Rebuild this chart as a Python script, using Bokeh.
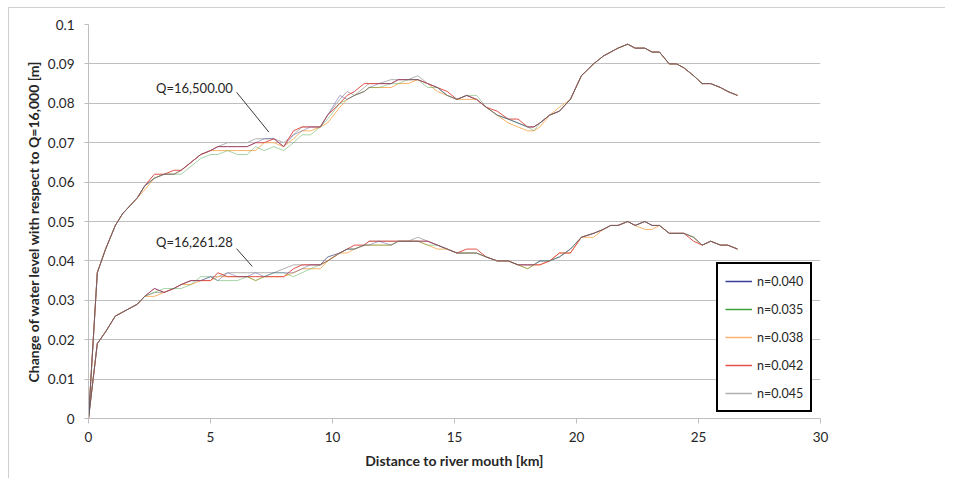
from bokeh.plotting import figure
from bokeh.models import (FixedTicker, CustomJSTickFormatter, Legend, LegendItem, Label)
from bokeh.embed import file_html
from bokeh.resources import INLINE

# ---------------- data ----------------
distance_km = [
    0.0, 0.36, 0.7, 1.1, 1.4, 1.7, 2.0, 2.3, 2.7, 3.1,
    3.5, 3.8, 4.2, 4.6, 5.0, 5.3, 5.7, 6.1, 6.5, 6.85,
    7.2, 7.6, 8.0, 8.4, 8.75, 9.1, 9.5, 9.8, 10.3, 10.6,
    10.9, 11.3, 11.5, 11.9, 12.4, 12.7, 13.1, 13.5, 13.9, 14.3,
    14.7, 15.1, 15.5, 15.9, 16.3, 16.75, 17.2, 17.6, 18.0, 18.25,
    18.5, 18.9, 19.3, 19.75, 20.2, 20.7, 21.1, 21.4, 21.7, 22.1,
    22.4, 22.8, 23.1, 23.4, 23.8, 24.1, 24.4, 24.8, 25.15, 25.5,
    25.9, 26.2, 26.6,
]

# Q = 16,500.00
q16500_n040 = [
    0.000, 0.037, 0.043, 0.049, 0.052, 0.054, 0.056, 0.059, 0.061, 0.062,
    0.062, 0.063, 0.065, 0.067, 0.068, 0.069, 0.069, 0.069, 0.069, 0.070,
    0.071, 0.071, 0.069, 0.072, 0.073, 0.074, 0.074, 0.077, 0.082, 0.081,
    0.082, 0.083, 0.084, 0.085, 0.085, 0.086, 0.086, 0.086, 0.085, 0.084,
    0.082, 0.081, 0.082, 0.081, 0.079, 0.077, 0.076, 0.075, 0.074, 0.074,
    0.075, 0.077, 0.078, 0.081, 0.087, 0.090, 0.092, 0.093, 0.094, 0.095,
    0.094, 0.094, 0.093, 0.093, 0.090, 0.090, 0.089, 0.087, 0.085, 0.085,
    0.084, 0.083, 0.082,
]
q16500_n035 = [
    0.000, 0.037, 0.043, 0.049, 0.052, 0.054, 0.056, 0.059, 0.061, 0.062,
    0.062, 0.062, 0.064, 0.066, 0.067, 0.067, 0.068, 0.067, 0.067, 0.069,
    0.068, 0.069, 0.068, 0.070, 0.072, 0.072, 0.074, 0.076, 0.080, 0.081,
    0.082, 0.083, 0.084, 0.084, 0.085, 0.085, 0.086, 0.086, 0.084, 0.084,
    0.082, 0.081, 0.082, 0.082, 0.079, 0.077, 0.076, 0.075, 0.074, 0.073,
    0.075, 0.077, 0.078, 0.081, 0.087, 0.090, 0.092, 0.093, 0.094, 0.095,
    0.094, 0.094, 0.093, 0.093, 0.090, 0.090, 0.089, 0.087, 0.085, 0.085,
    0.084, 0.083, 0.082,
]
q16500_n038 = [
    0.000, 0.037, 0.043, 0.049, 0.052, 0.054, 0.056, 0.058, 0.061, 0.062,
    0.062, 0.063, 0.065, 0.067, 0.068, 0.068, 0.068, 0.068, 0.068, 0.068,
    0.070, 0.070, 0.069, 0.071, 0.073, 0.073, 0.074, 0.075, 0.079, 0.081,
    0.082, 0.083, 0.084, 0.084, 0.084, 0.085, 0.085, 0.086, 0.085, 0.083,
    0.082, 0.081, 0.081, 0.081, 0.079, 0.077, 0.075, 0.074, 0.073, 0.073,
    0.074, 0.077, 0.079, 0.081, 0.087, 0.090, 0.092, 0.093, 0.094, 0.095,
    0.094, 0.094, 0.093, 0.093, 0.090, 0.090, 0.089, 0.087, 0.085, 0.085,
    0.084, 0.083, 0.082,
]
q16500_n042 = [
    0.000, 0.037, 0.043, 0.049, 0.052, 0.054, 0.056, 0.059, 0.062, 0.062,
    0.063, 0.063, 0.065, 0.067, 0.068, 0.069, 0.069, 0.069, 0.069, 0.070,
    0.070, 0.071, 0.069, 0.073, 0.074, 0.074, 0.074, 0.077, 0.080, 0.082,
    0.083, 0.085, 0.085, 0.085, 0.085, 0.086, 0.086, 0.086, 0.085, 0.084,
    0.083, 0.081, 0.082, 0.081, 0.079, 0.078, 0.076, 0.076, 0.074, 0.074,
    0.075, 0.077, 0.078, 0.081, 0.087, 0.090, 0.092, 0.093, 0.094, 0.095,
    0.094, 0.094, 0.093, 0.093, 0.090, 0.090, 0.089, 0.087, 0.085, 0.085,
    0.084, 0.083, 0.082,
]
q16500_n045 = [
    0.000, 0.037, 0.043, 0.049, 0.052, 0.054, 0.056, 0.059, 0.061, 0.062,
    0.062, 0.063, 0.065, 0.067, 0.068, 0.069, 0.070, 0.070, 0.070, 0.071,
    0.071, 0.071, 0.070, 0.072, 0.074, 0.074, 0.074, 0.077, 0.081, 0.083,
    0.082, 0.084, 0.085, 0.085, 0.086, 0.086, 0.086, 0.087, 0.085, 0.084,
    0.082, 0.081, 0.082, 0.081, 0.079, 0.077, 0.076, 0.075, 0.074, 0.074,
    0.075, 0.077, 0.078, 0.081, 0.087, 0.090, 0.092, 0.093, 0.094, 0.095,
    0.094, 0.094, 0.093, 0.093, 0.090, 0.090, 0.089, 0.087, 0.085, 0.085,
    0.084, 0.083, 0.082,
]

# Q = 16,261.28
q16261_n040 = [
    0.000, 0.019, 0.022, 0.026, 0.027, 0.028, 0.029, 0.031, 0.033, 0.032,
    0.033, 0.034, 0.035, 0.035, 0.036, 0.035, 0.037, 0.036, 0.036, 0.037,
    0.036, 0.037, 0.037, 0.037, 0.038, 0.039, 0.039, 0.041, 0.042, 0.043,
    0.043, 0.044, 0.044, 0.045, 0.044, 0.045, 0.045, 0.045, 0.045, 0.044,
    0.043, 0.042, 0.042, 0.042, 0.041, 0.040, 0.040, 0.039, 0.039, 0.039,
    0.040, 0.040, 0.041, 0.043, 0.046, 0.047, 0.048, 0.049, 0.049, 0.050,
    0.049, 0.050, 0.049, 0.049, 0.047, 0.047, 0.047, 0.046, 0.044, 0.045,
    0.044, 0.044, 0.043,
]
q16261_n035 = [
    0.000, 0.019, 0.022, 0.026, 0.027, 0.028, 0.029, 0.031, 0.032, 0.033,
    0.033, 0.033, 0.034, 0.036, 0.036, 0.035, 0.035, 0.035, 0.036, 0.035,
    0.036, 0.037, 0.037, 0.036, 0.037, 0.038, 0.039, 0.040, 0.042, 0.043,
    0.043, 0.044, 0.044, 0.044, 0.044, 0.045, 0.045, 0.045, 0.044, 0.044,
    0.043, 0.042, 0.042, 0.042, 0.041, 0.040, 0.040, 0.039, 0.038, 0.039,
    0.040, 0.040, 0.041, 0.043, 0.046, 0.047, 0.048, 0.049, 0.049, 0.050,
    0.049, 0.050, 0.049, 0.049, 0.047, 0.047, 0.047, 0.046, 0.044, 0.045,
    0.044, 0.044, 0.043,
]
q16261_n038 = [
    0.000, 0.019, 0.022, 0.026, 0.027, 0.028, 0.029, 0.031, 0.031, 0.032,
    0.033, 0.034, 0.034, 0.035, 0.035, 0.036, 0.036, 0.036, 0.036, 0.035,
    0.036, 0.036, 0.036, 0.037, 0.038, 0.038, 0.038, 0.040, 0.042, 0.042,
    0.043, 0.044, 0.044, 0.044, 0.044, 0.045, 0.045, 0.045, 0.044, 0.043,
    0.043, 0.042, 0.042, 0.042, 0.041, 0.040, 0.040, 0.039, 0.038, 0.039,
    0.039, 0.040, 0.042, 0.042, 0.046, 0.046, 0.048, 0.049, 0.049, 0.050,
    0.049, 0.048, 0.048, 0.049, 0.047, 0.047, 0.047, 0.046, 0.044, 0.045,
    0.044, 0.044, 0.043,
]
q16261_n042 = [
    0.000, 0.019, 0.022, 0.026, 0.027, 0.028, 0.029, 0.031, 0.033, 0.032,
    0.033, 0.034, 0.035, 0.035, 0.035, 0.037, 0.036, 0.036, 0.036, 0.036,
    0.036, 0.036, 0.036, 0.038, 0.039, 0.039, 0.039, 0.040, 0.042, 0.043,
    0.044, 0.044, 0.045, 0.045, 0.045, 0.045, 0.045, 0.045, 0.045, 0.044,
    0.043, 0.042, 0.043, 0.043, 0.041, 0.040, 0.040, 0.039, 0.039, 0.039,
    0.039, 0.040, 0.042, 0.042, 0.046, 0.047, 0.048, 0.049, 0.049, 0.050,
    0.049, 0.050, 0.049, 0.049, 0.047, 0.047, 0.047, 0.045, 0.044, 0.045,
    0.044, 0.044, 0.043,
]
q16261_n045 = [
    0.000, 0.019, 0.022, 0.026, 0.027, 0.028, 0.029, 0.031, 0.032, 0.032,
    0.033, 0.034, 0.035, 0.035, 0.036, 0.036, 0.037, 0.037, 0.037, 0.037,
    0.037, 0.037, 0.038, 0.039, 0.039, 0.039, 0.039, 0.041, 0.042, 0.043,
    0.043, 0.044, 0.045, 0.045, 0.045, 0.045, 0.045, 0.046, 0.045, 0.044,
    0.043, 0.042, 0.042, 0.042, 0.041, 0.040, 0.040, 0.039, 0.039, 0.039,
    0.040, 0.040, 0.041, 0.043, 0.046, 0.047, 0.048, 0.049, 0.049, 0.050,
    0.049, 0.050, 0.049, 0.049, 0.047, 0.047, 0.047, 0.046, 0.044, 0.045,
    0.044, 0.044, 0.043,
]

series_labels = ["n=0.040", "n=0.035", "n=0.038", "n=0.042", "n=0.045"]
series_colors = ["#3b3b9a", "#3f9f3f", "#f8b468", "#e3514a", "#b0b0b0"]
upper_series = [q16500_n040, q16500_n035, q16500_n038, q16500_n042, q16500_n045]
lower_series = [q16261_n040, q16261_n035, q16261_n038, q16261_n042, q16261_n045]

x_ticks = [0, 5, 10, 15, 20, 25, 30]
y_ticks = [0.0, 0.01, 0.02, 0.03, 0.04, 0.05, 0.06, 0.07, 0.08, 0.09, 0.1]

# annotation texts and their anchor / leader-line positions (data units)
annot_texts = ["Q=16,500.00", "Q=16,261.28"]
annot_x = [2.77, 2.77]
annot_y = [0.0840, 0.0447]
leader_x0 = [6.07, 6.07]
leader_y0 = [0.0828, 0.0431]
leader_x1 = [7.39, 6.71]
leader_y1 = [0.0727, 0.0386]

for s in upper_series + lower_series:
    assert len(s) == len(distance_km), len(s)

FONT = "Lato"
GRID = "#bfbfbf"
TXT = "#262626"

p = figure(width=937, height=471, x_range=(0, 30), y_range=(0, 0.1),
           output_backend="svg", toolbar_location=None,
           min_border_left=79, min_border_right=126,
           min_border_top=16, min_border_bottom=61)
p.styles = {"border-top": "1px solid #cfcfcf", "border-left": "1px solid #cfcfcf",
            "margin-left": "8px", "margin-top": "7px"}
p.outline_line_color = None
p.background_fill_color = "white"
p.border_fill_color = "white"

p.xgrid.visible = False
p.ygrid.grid_line_color = GRID
p.ygrid.grid_line_width = 1

p.xaxis.ticker = FixedTicker(ticks=x_ticks)
p.yaxis.ticker = FixedTicker(ticks=y_ticks)
p.yaxis.formatter = CustomJSTickFormatter(
    code="return tick.toFixed(2).replace(/\\.?0+$/, '');")

for ax in (p.xaxis[0], p.yaxis[0]):
    ax.axis_line_color = GRID
    ax.major_tick_line_color = GRID
    ax.minor_tick_line_color = None
    ax.major_tick_in = 0
    ax.major_label_text_font = FONT
    ax.major_label_text_font_size = "13.5px"
    ax.major_label_text_color = TXT
    ax.axis_label_text_font = FONT
    ax.axis_label_text_font_size = "14px"
    ax.axis_label_text_font_style = "bold"
    ax.axis_label_text_color = TXT

p.xaxis.major_tick_out = 5
p.xaxis.major_label_standoff = 8
p.xaxis.axis_label_standoff = 7
p.yaxis.major_tick_out = 4
p.yaxis.major_label_standoff = 10
p.yaxis.axis_label_standoff = 3
p.xaxis.axis_label = "Distance to river mouth [km]"
p.yaxis.axis_label = "Change of water level with respect to Q=16,000 [m]"

# lines (drawn so that the overlapping parts blend to a brownish tone)
series_alpha = [0.42, 0.45, 1.0, 1.0, 1.0]
draw_order = [4, 2, 3, 1, 0]
for i in draw_order:
    for group in (upper_series, lower_series):
        p.line(distance_km, group[i], line_color=series_colors[i],
               line_width=1, line_alpha=series_alpha[i])

# legend swatches: one-point lines (draw nothing in the plot, only in the legend)
legend_items = []
for lab, col, s in zip(series_labels, series_colors, upper_series):
    proxy = p.line(distance_km[:1], s[:1], line_color=col, line_width=1.5)
    legend_items.append(LegendItem(label=lab, renderers=[proxy]))

# annotations
p.segment(x0=leader_x0, y0=leader_y0, x1=leader_x1, y1=leader_y1,
          line_color="#3a3a3a", line_width=1)
for t, xx, yy in zip(annot_texts, annot_x, annot_y):
    p.add_layout(Label(x=xx, y=yy, text=t, text_font=FONT,
                       text_font_size="13px", text_color=TXT,
                       text_baseline="middle", text_align="left"))

legend = Legend(items=legend_items, location=(628, 6))
legend.border_line_color = "black"
legend.border_line_alpha = 1.0
legend.border_line_width = 2
legend.background_fill_color = "white"
legend.background_fill_alpha = 1
legend.label_text_font = FONT
legend.label_text_font_size = "12.5px"
legend.label_text_color = TXT
legend.glyph_width = 27
legend.glyph_height = 20
legend.label_height = 20
legend.label_width = 10
legend.spacing = 8
legend.padding = 7
legend.margin = 0
legend.label_standoff = 5
p.add_layout(legend)

open("out.html", "w").write(file_html(p, INLINE))
